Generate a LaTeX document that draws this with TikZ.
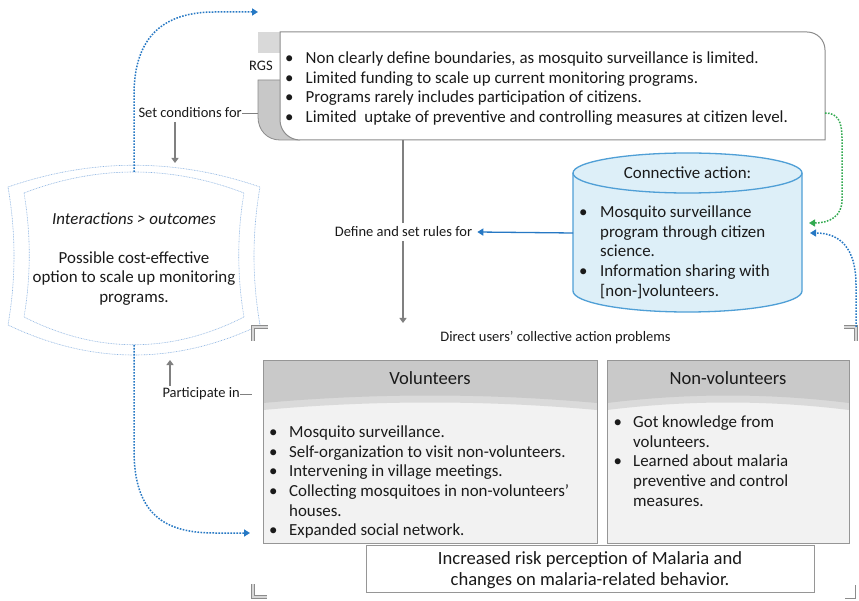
\documentclass[tikz,border=0pt]{standalone}
\usepackage{fontspec}
\setmainfont{Carlito}
\usetikzlibrary{arrows.meta}

\definecolor{txt}{RGB}{26,26,26}
\definecolor{ln}{RGB}{128,128,128}
\definecolor{frame}{RGB}{140,140,140}
\definecolor{boxln}{RGB}{150,150,150}
\definecolor{tabLight}{RGB}{217,217,217}
\definecolor{tabDark}{RGB}{200,200,200}
\definecolor{headDark}{RGB}{201,201,201}
\definecolor{headBand}{RGB}{218,218,218}
\definecolor{bodyGray}{RGB}{242,242,242}
\definecolor{cornerFill}{RGB}{215,215,215}
\definecolor{arrBlue}{RGB}{38,120,196}
\definecolor{arrGreen}{RGB}{50,170,80}
\definecolor{dotBlue}{RGB}{141,180,226}
\definecolor{cylFill}{RGB}{221,239,248}
\definecolor{cylLine}{RGB}{79,159,214}

\newcommand{\fsBody}{\fontsize{16.9}{19.7}\selectfont}
\newcommand{\fsSmall}{\fontsize{14.5}{17}\selectfont}
\newcommand{\fsHead}{\fontsize{18.6}{20.5}\selectfont}

\tikzset{
  lbl/.style={inner sep=0pt, text=txt},
  graybar/.style={draw=ln, line width=1.3pt, -{Triangle[width=7pt,length=5pt]}},
  dotarrow/.style={line width=1.5pt, dash pattern=on 1.6pt off 1.4pt, -{Triangle[width=7pt,length=6pt]}},
  shapedots/.style={draw=dotBlue, line width=0.6pt, dash pattern=on 0.8pt off 0.8pt},
  corner/.style={draw=frame, line width=3.6pt, line cap=butt},
  cornerin/.style={draw=cornerFill, line width=1.6pt, line cap=butt},
  cornerthin/.style={draw=frame, line width=1pt},
}

\begin{document}
\begin{tikzpicture}[x=1pt,y=-1pt]
\useasboundingbox (0,0) rectangle (859,601);
\fill[white] (0,0) rectangle (859,601);

% ---------- RGS card ----------
\fill[tabLight] (258,32) rectangle (282,53);
\filldraw[fill=tabDark, draw=frame, line width=0.8pt]
  (290,80) -- (258,80) -- (258,117) .. controls (258,130) and (267,140) .. (280,140) -- (300,140);
\filldraw[fill=white, draw=frame, line width=1pt]
  (280,32) -- (807,32) .. controls (817,32) and (825,40) .. (825,50)
  -- (825,140) -- (300,140) .. controls (289,140) and (280,131) .. (280,120) -- cycle;
\node[lbl, font=\fsSmall] (rgs) at (261,66) {RGS};
\node[lbl, anchor=north west, font=\fsBody] (rgsList) at (285,49.5) {%
\begin{tabular}{@{}p{20.5pt}@{}l@{}}
\textbullet & Non clearly define boundaries, as mosquito surveillance is limited.\\
\textbullet & Limited funding to scale up current monitoring programs.\\
\textbullet & Programs rarely includes participation of citizens.\\
\textbullet & Limited~ uptake of preventive and controlling measures at citizen level.
\end{tabular}};
\coordinate (rgsBottom) at (403,140);
\coordinate (rgsRight) at (825,113);
\coordinate (rgsTab) at (258,113);

% ---------- interactions shape ----------
\path[shapedots]
  (8,187) .. controls (92,158) and (176,158) .. (260,187)
  .. controls (252,233) and (252,279) .. (260,325)
  .. controls (176,365) and (92,365) .. (8,325)
  .. controls (16,279) and (16,233) .. (8,187) -- cycle;
\path[shapedots]
  (24,193) .. controls (97,165) and (171,165) .. (244,193)
  .. controls (237,234) and (237,276) .. (244,317)
  .. controls (171,354) and (97,354) .. (24,317)
  .. controls (31,276) and (31,234) .. (24,193) -- cycle;
\node[lbl, font=\fsBody\itshape] (interTitle) at (134,219) {Interactions > outcomes};
\node[lbl, font=\fsBody, align=center] (interText) at (134,278.5)
  {Possible cost-effective\\option to scale up monitoring\\programs.};
\coordinate (interTop) at (134,172);
\coordinate (interBot) at (134,345);

% ---------- left labels ----------
\node[lbl, font=\fsSmall, anchor=east] (setCond) at (242,113) {Set conditions for};
\draw[ln, line width=0.9pt] (setCond.east) -- (rgsTab);
\coordinate (setCondFrom) at (175,122);
\coordinate (setCondTo) at (175,163);
\draw[graybar] (setCondFrom) -- (setCondTo);

\node[lbl, font=\fsSmall, anchor=east] (partIn) at (240,394) {Participate in};
\coordinate (partEnd) at (252,394);
\draw[ln, line width=0.9pt] (partIn.east) -- (partEnd);
\coordinate (partFrom) at (170,386);
\coordinate (partTo) at (170,360);
\draw[graybar] (partFrom) -- (partTo);

% ---------- rules arrow ----------
\coordinate (dirTop) at (403,323);
\draw[graybar] (rgsBottom) -- (dirTop);
\node[lbl, font=\fsSmall, fill=white, inner ysep=4pt, inner xsep=0pt] (rules) at (403.5,232) {Define and set rules for};

% ---------- connective action cylinder ----------
\fill[cylFill] (573,173) -- (573,291) arc[start angle=180, end angle=0, x radius=114.5, y radius=21]
  -- (802,173) arc[start angle=0, end angle=-180, x radius=114.5, y radius=20] -- cycle;
\draw[cylLine, line width=1.3pt] (573,173) -- (573,291) arc[start angle=180, end angle=0, x radius=114.5, y radius=21]
  -- (802,173);
\draw[cylLine, line width=1.3pt] (687.5,173) ellipse [x radius=114.5, y radius=20];
\node[lbl, font=\fsBody] (cylTitle) at (687.5,173) {Connective action:};
\node[lbl, anchor=north west, font=\fsBody] (cylList) at (579,203.5) {%
\begin{tabular}{@{}p{21pt}@{}l@{}}
\textbullet & Mosquito surveillance\\
 & program through citizen\\
 & science.\\
\textbullet & Information sharing with\\
 & [non-]volunteers.
\end{tabular}};
\coordinate (cylWest) at (573,233);
\coordinate (cylEastA) at (809,223);
\coordinate (cylEastB) at (810,233);
\draw[arrBlue, line width=1.3pt, -{Triangle[width=7pt,length=6pt]}] (cylWest) -- ([xshift=5pt]rules.east);

% ---------- frame corners (shifts are in page units: negative yshift is downward) ----------
\coordinate (frTL) at (253,327);
\coordinate (frTR) at (856,327);
\coordinate (frBL) at (253,597);
\coordinate (frBR) at (855,598);
\foreach \s in {corner, cornerin}{
  \draw[\s] ([yshift=-14pt]frTL) -- (frTL) -- ([xshift=15pt]frTL);
  \draw[\s] ([xshift=-12pt]frTR) -- (frTR) -- ([yshift=-14pt]frTR);
  \draw[\s] ([yshift=13pt]frBL) -- (frBL) -- ([xshift=14pt]frBL);
}
\draw[cornerthin] ([xshift=-10pt]frBR) -- (frBR) -- ([yshift=13pt]frBR);

\node[lbl, font=\fsSmall] (direct) at (555.5,338) {Direct users’ collective action problems};

% ---------- volunteers ----------
\fill[bodyGray] (263,361) rectangle (597,543);
\fill[headBand] (263,361) -- (597,361) -- (597,410) .. controls (486,400) and (374,400) .. (263,410) -- cycle;
\fill[headDark] (263,361) -- (597,361) -- (597,403) .. controls (486,393) and (374,393) .. (263,403) -- cycle;
\draw[boxln, line width=1pt] (263,361) rectangle (597,543);
\node[lbl, font=\fsHead] (volHead) at (430,378) {Volunteers};
\node[lbl, anchor=north west, font=\fsBody] (volList) at (269,423.5) {%
\begin{tabular}{@{}p{20pt}@{}l@{}}
\textbullet & Mosquito surveillance.\\
\textbullet & Self-organization to visit non-volunteers.\\
\textbullet & Intervening in village meetings.\\
\textbullet & Collecting mosquitoes in non-volunteers’\\
 & houses.\\
\textbullet & Expanded social network.
\end{tabular}};
\coordinate (volWest) at (250,533);

% ---------- non-volunteers ----------
\fill[bodyGray] (607,361) rectangle (849,543);
\fill[headBand] (607,361) -- (849,361) -- (849,410) .. controls (768,400) and (688,400) .. (607,410) -- cycle;
\fill[headDark] (607,361) -- (849,361) -- (849,403) .. controls (768,393) and (688,393) .. (607,403) -- cycle;
\draw[boxln, line width=1pt] (607,361) rectangle (849,543);
\node[lbl, font=\fsHead] (nonHead) at (728,378) {Non-volunteers};
\node[lbl, anchor=north west, font=\fsBody] (nonList) at (613.5,413.5) {%
\begin{tabular}{@{}p{19.5pt}@{}l@{}}
\textbullet & Got knowledge from\\
 & volunteers.\\
\textbullet & Learned about malaria\\
 & preventive and control\\
 & measures.
\end{tabular}};

% ---------- outcome box ----------
\draw[boxln, fill=white, line width=1pt] (366,545) rectangle (814,592);
\node[lbl, font=\fsHead, align=center] (outcome) at (590,570)
  {Increased risk perception of Malaria and\\changes on malaria-related behavior.};

% ---------- dotted feedback arrows ----------
\coordinate (rgsEntry) at (258,12);
\draw[dotarrow, arrBlue] (interTop) -- (134,95) .. controls (134,35) and (165,12) .. (215,12) -- (rgsEntry);
\draw[dotarrow, arrBlue] (interBot) -- (134,450) .. controls (134,515) and (165,533) .. (215,533) -- (volWest);
\draw[dotarrow, arrGreen] (rgsRight) .. controls (838,113) and (842,122) .. (842,138)
  -- (842,200) .. controls (842,216) and (830,223) .. (cylEastA);
\draw[dotarrow, arrBlue] (frTR) -- (856,285) .. controls (856,248) and (840,233) .. (cylEastB);

\end{tikzpicture}
\end{document}
